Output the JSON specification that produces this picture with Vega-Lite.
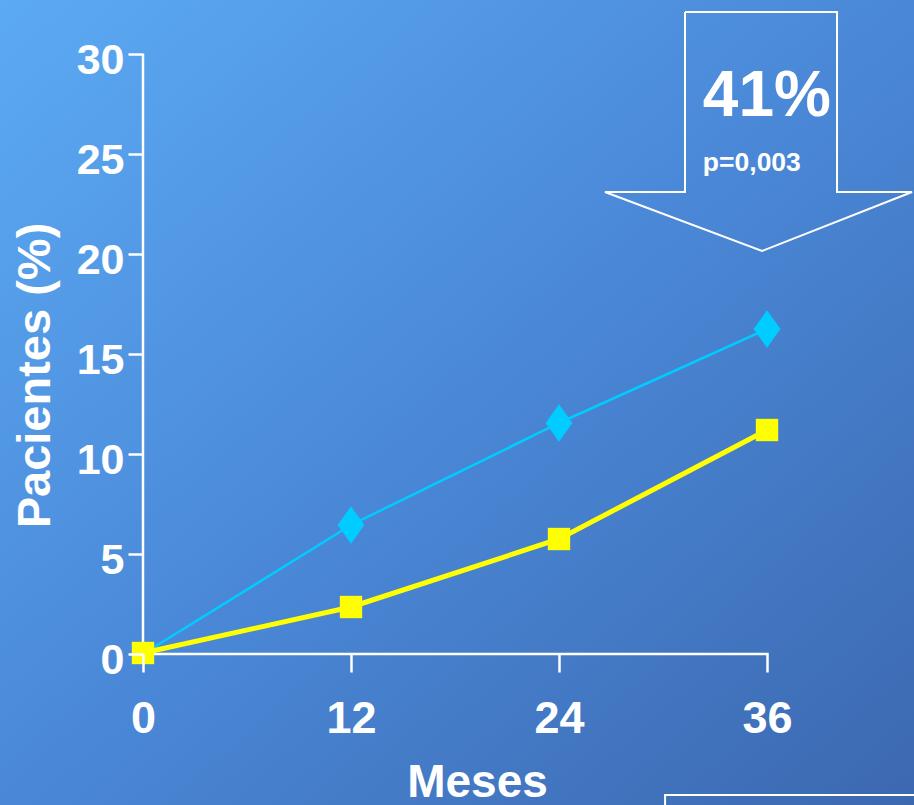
{
  "$schema": "https://vega.github.io/schema/vega-lite/v6.json",
  "width": 914,
  "height": 805,
  "autosize": {"type": "none"},
  "padding": 0,
  "background": "#4a88d8",
  "config": {"view": {"stroke": null}, "font": "Liberation Sans"},
  "datasets": {
    "series": [
      {"mes": 0, "pct": 0, "grupo": "A"},
      {"mes": 12, "pct": 6.45, "grupo": "A"},
      {"mes": 24, "pct": 11.55, "grupo": "A"},
      {"mes": 36, "pct": 16.25, "grupo": "A"},
      {"mes": 0, "pct": 0.05, "grupo": "B"},
      {"mes": 12, "pct": 2.35, "grupo": "B"},
      {"mes": 24, "pct": 5.75, "grupo": "B"},
      {"mes": 36, "pct": 11.2, "grupo": "B"}
    ],
    "arrow": [
      {"ax": 31.27, "ay": 32.1, "o": 0},
      {"ax": 40.04, "ay": 32.1, "o": 1},
      {"ax": 40.04, "ay": 23.1, "o": 2},
      {"ax": 44.37, "ay": 23.1, "o": 3},
      {"ax": 35.71, "ay": 20.15, "o": 4},
      {"ax": 26.65, "ay": 23.1, "o": 5},
      {"ax": 31.27, "ay": 23.1, "o": 6},
      {"ax": 31.27, "ay": 32.1, "o": 7}
    ]
  },
  "layer": [
    {
      "data": {"values": [{}]},
      "mark": {
        "type": "rect",
        "fill": {
          "gradient": "linear",
          "x1": 0, "y1": 0, "x2": 1, "y2": 1,
          "stops": [
            {"offset": 0, "color": "#5caaf3"},
            {"offset": 0.5, "color": "#4a88d7"},
            {"offset": 1, "color": "#3c68b0"}
          ]
        }
      }
    },
    {
      "data": {"values": [{}]},
      "mark": {"type": "point", "opacity": 0},
      "encoding": {
        "x": {
          "datum": 0, "type": "quantitative",
          "scale": {"domain": [-8.25, 44.481], "nice": false, "zero": false},
          "axis": {
            "orient": "bottom", "offset": -151, "domain": false, "grid": false, "zindex": 2,
            "values": [0, 12, 24, 36], "tickColor": "white", "tickWidth": 2.5, "tickSize": 18,
            "labelColor": "white", "labelFont": "Liberation Sans", "labelFontWeight": "bold", "labelFontSize": 45,
            "labelPadding": 24, "labelFlush": false, "labelOverlap": false,
            "title": "Meses", "titleColor": "white", "titleFont": "Liberation Sans", "titleFontWeight": "bold", "titleFontSize": 46,
            "titleX": 477, "titleY": 142, "titleBaseline": "alphabetic", "titleAlign": "center"
          }
        },
        "y": {
          "datum": 0, "type": "quantitative",
          "scale": {"domain": [-7.55, 32.7], "nice": false, "zero": false},
          "axis": {
            "orient": "left", "offset": -143, "domain": false, "grid": false, "zindex": 2,
            "values": [0, 5, 10, 15, 20, 25, 30], "tickColor": "white", "tickWidth": 2.5, "tickSize": 15,
            "labelColor": "white", "labelFont": "Liberation Sans", "labelFontWeight": "bold", "labelFontSize": 43,
            "labelPadding": 4, "labelOffset": 6, "labelFlush": false, "labelOverlap": false, "labelBaseline": "middle",
            "title": "Pacientes (%)", "titleColor": "white", "titleFont": "Liberation Sans", "titleFontWeight": "bold", "titleFontSize": 47,
            "titleX": -94, "titleY": 375, "titleAngle": -90, "titleBaseline": "alphabetic", "titleAlign": "center"
          }
        }
      }
    },
    {
      "data": {"values": [{}]},
      "mark": {"type": "rule", "color": "white", "strokeWidth": 2.5},
      "encoding": {
        "x": {"datum": 0, "type": "quantitative"},
        "y": {"datum": 0, "type": "quantitative"},
        "y2": {"datum": 30}
      }
    },
    {
      "data": {"values": [{}]},
      "mark": {"type": "rule", "color": "white", "strokeWidth": 2.5},
      "encoding": {
        "x": {"datum": 0, "type": "quantitative"},
        "x2": {"datum": 36.1},
        "y": {"datum": 0, "type": "quantitative"}
      }
    },
    {
      "data": {"name": "series"},
      "transform": [{"filter": "datum.grupo === 'A'"}],
      "mark": {"type": "line", "color": "#00ccff", "strokeWidth": 2.5},
      "encoding": {
        "x": {"field": "mes", "type": "quantitative"},
        "y": {"field": "pct", "type": "quantitative"},
        "order": {"field": "mes"}
      }
    },
    {
      "data": {"name": "series"},
      "transform": [{"filter": "datum.grupo === 'A' && datum.mes > 0"}],
      "mark": {"type": "point", "filled": true, "opacity": 1, "color": "#00ccff", "shape": "M0,-1L0.72,0L0,1L-0.72,0Z", "size": 1400},
      "encoding": {
        "x": {"field": "mes", "type": "quantitative"},
        "y": {"field": "pct", "type": "quantitative"}
      }
    },
    {
      "data": {"name": "series"},
      "transform": [{"filter": "datum.grupo === 'B'"}],
      "mark": {"type": "line", "color": "#ffff00", "strokeWidth": 5},
      "encoding": {
        "x": {"field": "mes", "type": "quantitative"},
        "y": {"field": "pct", "type": "quantitative"},
        "order": {"field": "mes"}
      }
    },
    {
      "data": {"name": "series"},
      "transform": [{"filter": "datum.grupo === 'B'"}],
      "mark": {"type": "square", "filled": true, "opacity": 1, "color": "#ffff00", "size": 500},
      "encoding": {
        "x": {"field": "mes", "type": "quantitative"},
        "y": {"field": "pct", "type": "quantitative"}
      }
    },
    {
      "data": {"name": "arrow"},
      "mark": {"type": "line", "color": "white", "strokeWidth": 2, "strokeJoin": "miter"},
      "encoding": {
        "x": {"field": "ax", "type": "quantitative"},
        "y": {"field": "ay", "type": "quantitative"},
        "order": {"field": "o"}
      }
    },
    {
      "data": {"values": [{}]},
      "mark": {"type": "rect", "fill": null, "stroke": "white", "strokeWidth": 2},
      "encoding": {
        "x": {"datum": 30.12, "type": "quantitative"},
        "x2": {"datum": 46},
        "y": {"datum": -7.05, "type": "quantitative"},
        "y2": {"datum": -9}
      }
    },
    {
      "data": {"values": [{}]},
      "mark": {"type": "text", "text": "41%", "color": "white", "font": "Liberation Sans", "fontWeight": "bold", "fontSize": 64, "align": "left", "baseline": "alphabetic"},
      "encoding": {
        "x": {"datum": 32.3, "type": "quantitative"},
        "y": {"datum": 26.9, "type": "quantitative"}
      }
    },
    {
      "data": {"values": [{}]},
      "mark": {"type": "text", "text": "p=0,003", "color": "white", "font": "Liberation Sans", "fontWeight": "bold", "fontSize": 26.5, "align": "left", "baseline": "alphabetic"},
      "encoding": {
        "x": {"datum": 32.3, "type": "quantitative"},
        "y": {"datum": 24.15, "type": "quantitative"}
      }
    }
  ]
}
